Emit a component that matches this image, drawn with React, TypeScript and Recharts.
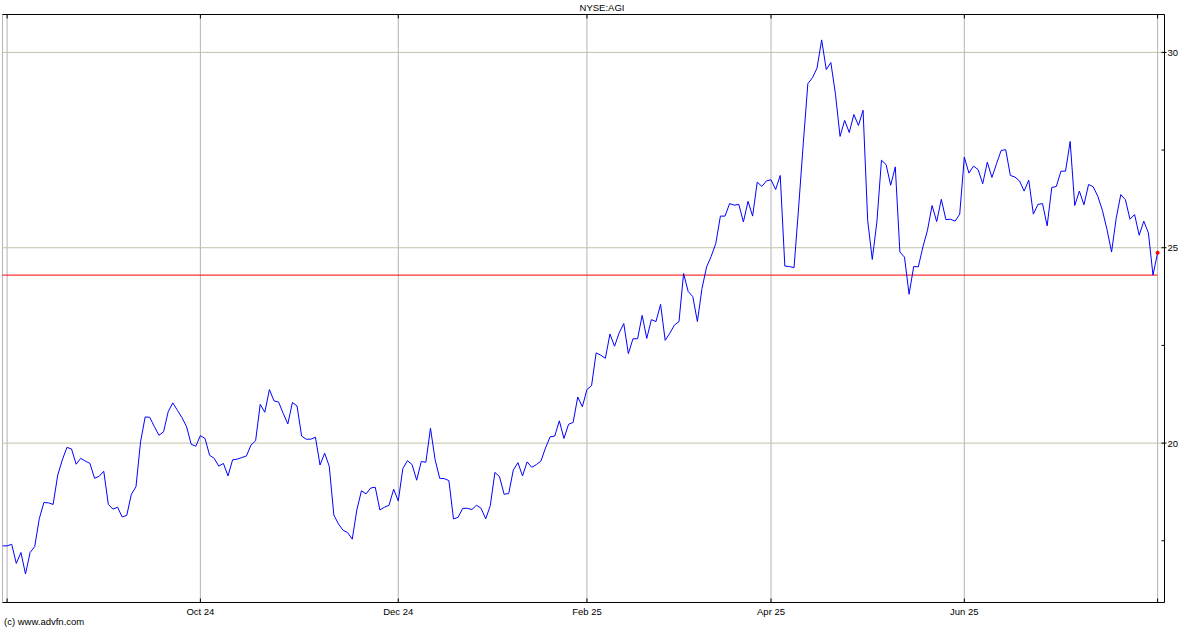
import React from 'react';
import { LineChart, Line, XAxis, YAxis, CartesianGrid, ReferenceLine, ReferenceDot } from 'recharts';

// Daily closes, one per trading day (index 0 .. 251)
const closes = [
  17.37, 17.37, 17.41, 16.92, 17.2, 16.65, 17.2, 17.35, 18.07, 18.48,
  18.47, 18.43, 19.18, 19.57, 19.89, 19.85, 19.46, 19.61, 19.54, 19.48,
  19.1, 19.15, 19.28, 18.43, 18.31, 18.36, 18.11, 18.15, 18.69, 18.88,
  20.03, 20.67, 20.66, 20.42, 20.2, 20.29, 20.8, 21.03, 20.84, 20.65,
  20.42, 19.97, 19.92, 20.19, 20.12, 19.69, 19.61, 19.41, 19.48, 19.16,
  19.57, 19.59, 19.63, 19.67, 19.95, 20.06, 20.99, 20.79, 21.37, 21.08,
  21.05, 20.76, 20.49, 21.04, 20.95, 20.18, 20.1, 20.1, 20.15, 19.44,
  19.74, 19.41, 18.16, 17.93, 17.77, 17.71, 17.54, 18.29, 18.78, 18.7,
  18.85, 18.87, 18.29, 18.36, 18.41, 18.82, 18.52, 19.35, 19.55, 19.45,
  19.05, 19.53, 19.51, 20.38, 19.58, 19.1, 19.09, 19.04, 18.06, 18.1,
  18.33, 18.33, 18.3, 18.41, 18.33, 18.06, 18.4, 19.25, 19.14, 18.69,
  18.71, 19.31, 19.5, 19.16, 19.52, 19.38, 19.45, 19.54, 19.88, 20.16,
  20.18, 20.57, 20.12, 20.48, 20.53, 21.18, 20.93, 21.37, 21.47, 22.31,
  22.25, 22.17, 22.79, 22.48, 22.82, 23.06, 22.29, 22.67, 22.67, 23.27,
  22.68, 23.16, 23.11, 23.55, 22.63, 22.81, 23.02, 23.11, 24.34, 23.88,
  23.75, 23.11, 23.96, 24.51, 24.78, 25.11, 25.81, 25.81, 26.13, 26.09,
  26.11, 25.66, 26.19, 25.81, 26.68, 26.57, 26.71, 26.74, 26.49, 26.85,
  24.53, 24.52, 24.49, 26.04, 27.66, 29.2, 29.35, 29.6, 30.32, 29.56,
  29.74, 28.93, 27.85, 28.26, 27.95, 28.41, 28.13, 28.52, 25.7, 24.7,
  25.66, 27.24, 27.13, 26.6, 27.07, 24.89, 24.76, 23.81, 24.52, 24.51,
  25.02, 25.45, 26.08, 25.67, 26.24, 25.72, 25.73, 25.68, 25.86, 27.32,
  26.91, 27.09, 27.0, 26.64, 27.19, 26.8, 27.15, 27.49, 27.51, 26.85,
  26.81, 26.71, 26.45, 26.73, 25.86, 26.11, 26.13, 25.56, 26.54, 26.57,
  26.96, 26.96, 27.72, 26.08, 26.45, 26.1, 26.62, 26.56, 26.32, 25.96,
  25.47, 24.89, 25.75, 26.36, 26.23, 25.73, 25.85, 25.32, 25.68, 25.38,
  24.3, 24.87,
];

const monthTicks = [1, 43, 86, 127, 167, 209, 251];
const monthLabels = ['', 'Oct 24', 'Dec 24', 'Feb 25', 'Apr 25', 'Jun 25', ''];
const priceTicks = [17.5, 20, 22.5, 25, 27.5, 30];
const labeledPrices = [20, 25, 30];
const gridPrices = [20, 25, 30];
const xDomain: [number, number] = [0, 252.5];
const yDomain: [number, number] = [15.92, 30.97];
const markerLevel = 24.3;
const lastDay = closes.length - 1;
const lastClose = closes[lastDay];
const title = 'NYSE:AGI';
const credit = '(c) www.advfn.com';

const data = closes.map((close, day) => ({ day, close }));

const FONT = '"Liberation Sans", Arial, Helvetica, sans-serif';
const FS = 9.5;

const BottomTick = (p: any) => {
  const { x, y, payload } = p;
  const label = monthLabels[monthTicks.indexOf(payload.value)] || '';
  return (
    <g>
      <line x1={x} y1={y} x2={x} y2={y - 4} stroke="#000" strokeWidth={1} />
      {label ? (
        <text x={x} y={y + 12} textAnchor="middle" fontSize={FS} fontFamily={FONT} fill="#000">
          {label}
        </text>
      ) : null}
    </g>
  );
};

const TopTick = (p: any) => {
  const { x, y } = p;
  return <line x1={x} y1={y} x2={x} y2={y + 4} stroke="#000" strokeWidth={1} />;
};

const LeftTick = (p: any) => {
  const { x, y } = p;
  return <line x1={x} y1={y} x2={x + 4} y2={y} stroke="#000" strokeWidth={1} />;
};

const RightTick = (p: any) => {
  const { x, y, payload } = p;
  const major = labeledPrices.includes(payload.value);
  return (
    <g>
      <line x1={x - 3} y1={y} x2={major ? x + 2 : x} y2={y} stroke="#000" strokeWidth={1} />
      {major ? (
        <text x={x + 3} y={y + 3.5} textAnchor="start" fontSize={FS} fontFamily={FONT} fill="#000">
          {String(payload.value)}
        </text>
      ) : null}
    </g>
  );
};

export default function App() {
  return (
    <div
      style={{
        position: 'absolute',
        left: 0,
        top: 0,
        width: 1200,
        height: 630,
        background: '#fff',
        overflow: 'hidden',
      }}
    >
      <LineChart
        width={1200}
        height={630}
        data={data}
        margin={{ top: 0.5, right: 0.5, bottom: 0.5, left: 0.5 }}
      >
        <CartesianGrid horizontal={false} vertical={true} stroke="#b4b4b4" strokeWidth={1} />
        <CartesianGrid horizontal={true} vertical={false} yAxisId="g" stroke="#c2c2a6" strokeWidth={1} />
        <XAxis
          dataKey="day"
          type="number"
          domain={xDomain}
          allowDataOverflow
          ticks={monthTicks}
          interval={0}
          height={27}
          tickSize={0}
          tickMargin={0}
          tickLine={false}
          axisLine={{ stroke: '#000', strokeWidth: 1 }}
          tick={<BottomTick />}
        />
        <XAxis
          xAxisId="top"
          orientation="top"
          dataKey="day"
          type="number"
          domain={xDomain}
          allowDataOverflow
          ticks={monthTicks}
          interval={0}
          height={14}
          tickSize={0}
          tickMargin={0}
          tickLine={false}
          axisLine={{ stroke: '#000', strokeWidth: 1 }}
          tick={<TopTick />}
        />
        <YAxis
          orientation="right"
          type="number"
          domain={yDomain}
          allowDataOverflow
          ticks={priceTicks}
          interval={0}
          width={35}
          tickSize={0}
          tickMargin={0}
          tickLine={false}
          axisLine={{ stroke: '#000', strokeWidth: 1 }}
          tick={<RightTick />}
        />
        <YAxis
          yAxisId="l"
          orientation="left"
          type="number"
          domain={yDomain}
          allowDataOverflow
          ticks={priceTicks}
          interval={0}
          width={2}
          tickSize={0}
          tickMargin={0}
          tickLine={false}
          axisLine={{ stroke: '#000', strokeWidth: 1 }}
          tick={<LeftTick />}
        />
        <YAxis
          yAxisId="g"
          hide
          type="number"
          domain={yDomain}
          allowDataOverflow
          ticks={gridPrices}
          interval={0}
        />
        <ReferenceLine
          segment={[
            { x: 0, y: markerLevel },
            { x: lastDay, y: markerLevel },
          ]}
          stroke="#ff0000"
          strokeWidth={1}
          ifOverflow="extendDomain"
        />
        <Line
          type="linear"
          dataKey="close"
          stroke="#0000ff"
          strokeWidth={1}
          dot={false}
          activeDot={false}
          isAnimationActive={false}
        />
        <ReferenceDot x={lastDay} y={lastClose} r={2} fill="#ff0000" stroke="none" />
      </LineChart>
      <div
        style={{
          position: 'absolute',
          left: 0,
          top: 2,
          width: 1204,
          textAlign: 'center',
          fontFamily: FONT,
          fontSize: FS,
          lineHeight: '12px',
          color: '#000',
        }}
      >
        {title}
      </div>
      <div
        style={{
          position: 'absolute',
          left: 4,
          top: 616,
          fontFamily: FONT,
          fontSize: FS,
          lineHeight: '12px',
          color: '#000',
        }}
      >
        {credit}
      </div>
    </div>
  );
}
